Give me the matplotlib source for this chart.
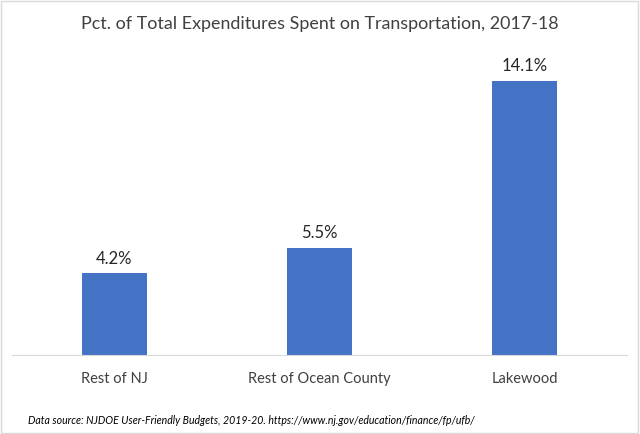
import matplotlib.pyplot as plt
from matplotlib.patches import Rectangle

categories = ["Rest of NJ", "Rest of Ocean County", "Lakewood"]
values = [4.2, 5.5, 14.1]
title = "Pct. of Total Expenditures Spent on Transportation, 2017-18"
source = "Data source: NJDOE User-Friendly Budgets, 2019-20. https://www.nj.gov/education/finance/fp/ufb/"

plt.rcParams['font.family'] = ['Lato', 'DejaVu Sans']

fig = plt.figure(figsize=(6.4, 4.34), dpi=100)
ax = fig.add_axes([12 / 640, 79 / 434, 615 / 640, 311 / 434])

x = range(len(categories))
bars = ax.bar(x, values, width=0.317, color="#4472C4")
ax.set_xlim(-0.5, 2.5)
ax.set_ylim(0, 16)

for b, v in zip(bars, values):
    ax.text(b.get_x() + b.get_width() / 2, v + 0.35, f"{v:.1f}%",
            ha="center", va="bottom", fontsize=12, color="#262626")

ax.set_xticks(list(x))
ax.set_xticklabels(categories, fontsize=10.5, color="#404040")
ax.tick_params(axis="x", length=0, pad=12)
ax.set_yticks([])
for s in ["top", "left", "right"]:
    ax.spines[s].set_visible(False)
ax.spines["bottom"].set_color("#D9D9D9")

fig.text(0.5, 1 - 24 / 434, title, ha="center", va="center", fontsize=12.9, color="#404040")
fig.text(28 / 640, 1 - 420 / 434, source, ha="left", va="center", fontsize=7.6, style="italic", color="#000000")

fig.patches.append(Rectangle((0.002, 0.003), 0.995, 0.994, transform=fig.transFigure,
                             fill=False, edgecolor="#D9D9D9", linewidth=1))

fig.savefig("out.png", dpi=100)
